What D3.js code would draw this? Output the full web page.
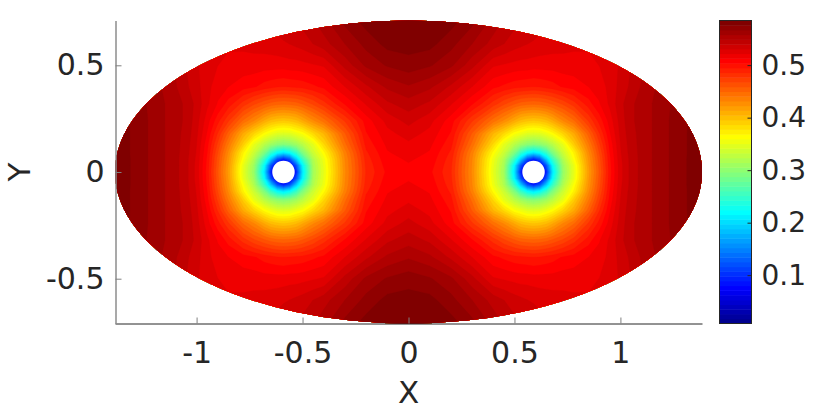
<!DOCTYPE html>
<html>
<head>
<meta charset="utf-8">
<script src="https://cdn.jsdelivr.net/npm/d3@7"></script>
<style>
  body { margin: 0; background: #fff; }
  text { font-family: "DejaVu Sans"; fill: #262626; }
</style>
</head>
<body>
<div id="chart"></div>
<script>
  // values, top right quadrant only, the field is mirrored in both axes
  var grid_x = [0, .1, .2, .3, .4, .45, .5, .53, .56, .59, .62, .65, .68, .73, .78, .85, .9, .95, 1, 1.05, 1.1, 1.15, 1.2, 1.25, 1.3, 1.39]
  var grid_y = [0, .03, .06, .09, .13, .18, .24, .32, .4, .5, .6, .71]

  var row_000 = [.510, .506, .487, .430, .350, .312, .205, .090, .060, .060, .060, .090, .205, .305, .350, .420, .460, .500, .528, .543, .552, .558, .564, .569, .575, .582]
  var row_003 = [.512, .508, .488, .431, .352, .315, .215, .120, .065, .060, .065, .120, .220, .310, .352, .422, .462, .501, .528, .543, .552, .558, .564, .569, .575, .582]
  var row_006 = [.514, .510, .490, .432, .355, .320, .250, .190, .120, .090, .120, .190, .250, .320, .362, .425, .464, .502, .529, .543, .552, .558, .564, .569, .575, .582]
  var row_009 = [.517, .512, .493, .436, .365, .335, .290, .250, .220, .205, .220, .250, .290, .335, .370, .430, .468, .504, .530, .544, .552, .558, .564, .569, .575, .581]
  var row_013 = [.520, .515, .498, .447, .385, .350, .325, .310, .300, .295, .300, .310, .325, .352, .392, .440, .475, .507, .531, .545, .552, .558, .564, .569, .575, .581]
  var row_018 = [.526, .519, .503, .458, .405, .385, .362, .355, .347, .345, .347, .355, .365, .388, .412, .455, .485, .512, .533, .546, .552, .558, .564, .569, .575, .581]
  var row_024 = [.534, .525, .508, .478, .445, .430, .412, .402, .397, .395, .397, .402, .412, .432, .448, .478, .498, .517, .535, .547, .553, .558, .564, .569, .575, .580]
  var row_032 = [.545, .538, .523, .505, .482, .470, .460, .455, .453, .452, .453, .456, .461, .470, .482, .500, .512, .524, .537, .547, .553, .558, .564, .568, .574, .580]
  var row_040 = [.557, .551, .538, .522, .506, .502, .498, .497, .496, .495, .496, .498, .500, .505, .508, .513, .517, .525, .534, .542, .550, .556, .562, .567, .573, .579]
  var row_050 = [.572, .568, .560, .543, .523, .521, .519, .518, .518, .517, .517, .517, .517, .518, .518, .520, .522, .527, .532, .540, .548, .555, .561, .566, .572, .578]
  var row_060 = [.580, .579, .570, .558, .545, .540, .535, .533, .531, .530, .528, .527, .526, .525, .524, .523, .525, .530, .534, .540, .548, .555, .561, .566, .572, .578]
  var row_071 = [.586, .585, .580, .570, .555, .548, .543, .540, .538, .536, .535, .534, .533, .532, .531, .530, .530, .532, .535, .540, .548, .555, .561, .566, .572, .578]
  var quadrant_rows = [row_000, row_003, row_006, row_009, row_013, row_018, row_024, row_032, row_040, row_050, row_060, row_071]

  var hole_centers = [-.59, .59]
  var hole_radius = .053

  var x_ticks = [-1, -.5, 0, .5, 1]
  var x_tick_labels = ["-1", "-0.5", "0", "0.5", "1"]
  var y_ticks = [-.5, 0, .5]
  var y_tick_labels = ["-0.5", "0", "0.5"]
  var color_ticks = [.1, .2, .3, .4, .5]
  var color_tick_labels = ["0.1", "0.2", "0.3", "0.4", "0.5"]

  // jet colormap stops and color limits
  var jet_stops = [0, .111, .365, .619, .873, 1]
  var jet_colors = ["#00008f", "#0000ff", "#00ffff", "#ffff00", "#ff0000", "#800000"]
  var color_min = .008
  var color_max = .585
  var n_colors = 64

  var width = 830, height = 415

  var svg = d3.select("#chart").append("svg")
      .attr("width", width)
      .attr("height", height)

  // setting scales
  var xScale = d3.scaleLinear().domain([-1.385, 1.385]).range([115, 702])
  var yScale = d3.scaleLinear().domain([-.71, .71]).range([323.5, 20.5])
  var colorValue = d3.scaleLinear().domain([color_min, color_max]).range([323.5, 20.5])
  var jet = d3.scaleLinear().domain(jet_stops).range(jet_colors)

  // mirror the quadrant into the full grid
  var full_x = grid_x.slice(1).reverse().map(function(d) { return -d; }).concat(grid_x)
  var full_y = grid_y.slice(1).reverse().map(function(d) { return -d; }).concat(grid_y)
  var full_rows = quadrant_rows.slice(1).reverse().concat(quadrant_rows)

  var values = []
  full_rows.forEach(function(row) {
    var full_row = row.slice(1).reverse().concat(row)
    full_row.forEach(function(v) { values.push(v); })
  })

  var levels = d3.range(n_colors).map(function(i) {
    return color_min + i * (color_max - color_min) / n_colors;
  })
  var bandColor = function(i) { return jet(i / (n_colors - 1)); }

  var contours = d3.contours()
      .size([full_x.length, full_y.length])
      .smooth(true)
      .thresholds(levels)(values)

  // contour coordinates come in grid cells, points sit on cell centers
  var xIndex = d3.scaleLinear().domain(full_x.map(function(d, i) { return i + .5; })).range(full_x)
  var yIndex = d3.scaleLinear().domain(full_y.map(function(d, i) { return i + .5; })).range(full_y)

  var gridPath = d3.geoPath(d3.geoTransform({
    point: function(x, y) {
      this.stream.point(xScale(xIndex(x)), yScale(yIndex(y)));
    }
  }))

  svg.append("clipPath")
      .attr("id", "ellipse_clip")
    .append("ellipse")
      .attr("cx", xScale(0))
      .attr("cy", yScale(0))
      .attr("rx", xScale(1.385) - xScale(0))
      .attr("ry", yScale(-.71) - yScale(0))

  // filled contours
  svg.append("g")
      .attr("clip-path", "url(#ellipse_clip)")
    .selectAll("path")
      .data(contours)
    .enter().append("path")
      .attr("d", gridPath)
      .attr("fill", function(d, i) { return bandColor(i); })
      .attr("stroke", function(d, i) { return bandColor(i); })
      .attr("stroke-width", .3)

  // the two holes
  svg.selectAll(".hole")
      .data(hole_centers)
    .enter().append("ellipse")
      .attr("class", "hole")
      .attr("cx", function(d) { return xScale(d); })
      .attr("cy", yScale(0))
      .attr("rx", xScale(hole_radius) - xScale(0))
      .attr("ry", yScale(0) - yScale(hole_radius))
      .attr("fill", "#fff")

  // x axis
  var xAxis = d3.axisBottom(xScale)
      .tickValues(x_ticks)
      .tickFormat(function(d, i) { return x_tick_labels[i]; })
      .tickSizeInner(-6)
      .tickSizeOuter(0)
      .tickPadding(18)

  var gx = svg.append("g")
      .attr("transform", "translate(0,323.5)")
      .call(xAxis)
  gx.select(".domain").attr("stroke", "#262626")
  gx.selectAll("line").attr("stroke", "#808080")
  gx.selectAll("text").attr("font-size", 30).style("font-family", "DejaVu Sans").attr("fill", "#262626")

  // y axis
  var yAxis = d3.axisLeft(yScale)
      .tickValues(y_ticks)
      .tickFormat(function(d, i) { return y_tick_labels[i]; })
      .tickSizeInner(-6)
      .tickSizeOuter(0)
      .tickPadding(11)

  var gy = svg.append("g")
      .attr("transform", "translate(115.5,0)")
      .call(yAxis)
  gy.select(".domain").attr("stroke", "#8c8c8c").attr("stroke-width", 1.5)
  gy.selectAll("line").attr("stroke", "#808080")
  gy.selectAll("text").attr("font-size", 30).style("font-family", "DejaVu Sans").attr("fill", "#262626")

  // axis labels
  svg.append("text")
      .attr("x", xScale(0))
      .attr("y", 403)
      .attr("font-size", 31)
      .style("text-anchor", "middle")
      .text("X")

  svg.append("text")
      .attr("transform", "translate(30," + yScale(0) + ") rotate(-90)")
      .attr("font-size", 31)
      .style("text-anchor", "middle")
      .text("Y")

  // colorbar
  var bar_left = 719.5, bar_right = 751.5
  var bar_step = (color_max - color_min) / n_colors

  svg.append("g").selectAll("rect")
      .data(levels)
    .enter().append("rect")
      .attr("x", bar_left)
      .attr("width", bar_right - bar_left)
      .attr("y", function(d) { return colorValue(d + bar_step); })
      .attr("height", function(d) { return colorValue(d) - colorValue(d + bar_step) + .5; })
      .attr("fill", function(d, i) { return bandColor(i); })

  svg.append("rect")
      .attr("x", bar_left)
      .attr("y", 20.5)
      .attr("width", bar_right - bar_left)
      .attr("height", 303)
      .attr("fill", "none")
      .attr("stroke", "#262626")

  var colorAxis = d3.axisRight(colorValue)
      .tickValues(color_ticks)
      .tickFormat(function(d, i) { return color_tick_labels[i]; })
      .tickSizeInner(-4)
      .tickSizeOuter(0)
      .tickPadding(10)

  var gc = svg.append("g")
      .attr("transform", "translate(" + bar_right + ",0)")
      .call(colorAxis)
  gc.select(".domain").remove()
  gc.selectAll("line").attr("stroke", "#262626")
  gc.selectAll("text").attr("font-size", 28).style("font-family", "DejaVu Sans").attr("fill", "#262626")
</script>
</body>
</html>
